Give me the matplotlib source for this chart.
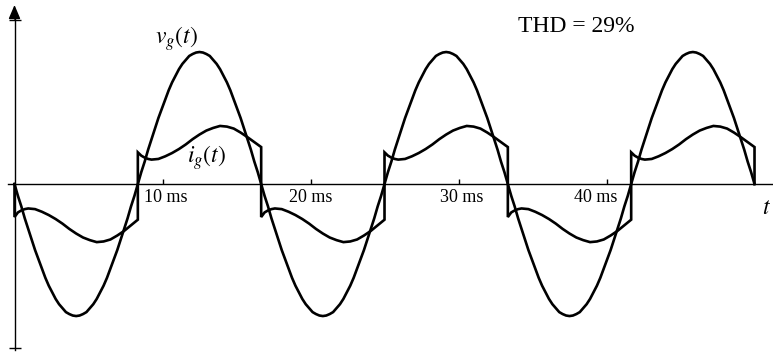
import numpy as np
import matplotlib.pyplot as plt

plt.rcParams['font.family'] = ['Liberation Serif', 'DejaVu Serif']
plt.rcParams['mathtext.fontset'] = 'stix'

# 60 Hz line, three cycles shown
period_ms = 16.667
n_cycles = 3

# v_g(t) over one line cycle, read every 5 degrees (peak = 1)
vg_deg = list(range(0, 360, 5))
vg_cycle = [0.00, -0.09, -0.17, -0.26, -0.34, -0.42, -0.50, -0.57, -0.64, -0.71,
            -0.77, -0.82, -0.87, -0.91, -0.94, -0.97, -0.985, -0.996, -1.00, -0.996,
            -0.985, -0.97, -0.94, -0.91, -0.87, -0.82, -0.77, -0.71, -0.64, -0.57,
            -0.50, -0.42, -0.34, -0.26, -0.17, -0.09,
            0.00, 0.09, 0.17, 0.26, 0.34, 0.42, 0.50, 0.57, 0.64, 0.71,
            0.77, 0.82, 0.87, 0.91, 0.94, 0.97, 0.985, 0.996, 1.00, 0.996,
            0.985, 0.97, 0.94, 0.91, 0.87, 0.82, 0.77, 0.71, 0.64, 0.57,
            0.50, 0.42, 0.34, 0.26, 0.17, 0.09]

# i_g(t) over one line cycle (same scale), with the step at each zero crossing
ig_deg = [0, 5, 10, 15, 20, 30, 40, 50, 60, 70, 80, 90, 100, 110, 120, 130, 140, 150, 160, 180,
          180, 185, 190, 195, 200, 210, 220, 230, 240, 250, 260, 270, 280, 290, 300, 310, 320, 330, 340, 360]
ig_cycle = [-0.25, -0.215, -0.20, -0.19, -0.185, -0.19, -0.21, -0.235, -0.265, -0.30,
            -0.34, -0.375, -0.405, -0.425, -0.44, -0.435, -0.42, -0.39, -0.355, -0.27,
            0.24, 0.215, 0.20, 0.19, 0.185, 0.19, 0.21, 0.235, 0.265, 0.30,
            0.34, 0.375, 0.405, 0.425, 0.44, 0.435, 0.42, 0.39, 0.355, 0.28]

tick_ms = [10, 20, 30, 40]
tick_labels = ['10 ms', '20 ms', '30 ms', '40 ms']
thd_text = 'THD = 29%'

# build the three cycles
t_vg = np.concatenate([np.array(vg_deg) + 360 * k for k in range(n_cycles)] + [[360 * n_cycles]])
t_vg = t_vg * period_ms / 360
vg = np.concatenate([vg_cycle] * n_cycles + [[0.0]])

t_ig = np.concatenate([[0]] + [np.array(ig_deg) + 360 * k for k in range(n_cycles)] + [[360 * n_cycles]])
t_ig = t_ig * period_ms / 360
ig = np.concatenate([[0.0]] + [ig_cycle] * n_cycles + [[0.0]])

fig = plt.figure(figsize=(7.73, 3.55), dpi=100)
ax = fig.add_axes([0, 0, 1, 1])
ax.set_xlim(-0.98, 51.25)
ax.set_ylim(-1.295, 1.394)

ax.plot(t_vg, vg, color='black', lw=1.9, solid_joinstyle='round')
ax.plot(t_ig, ig, color='black', lw=1.9, solid_joinstyle='miter')

# axes through the origin
for side in ['top', 'right']:
    ax.spines[side].set_visible(False)
ax.spines['bottom'].set_position(('data', 0))
ax.spines['left'].set_position(('data', 0))
ax.spines['bottom'].set_bounds(-0.45, 51.25)
ax.spines['left'].set_bounds(-1.26, 1.28)
ax.spines['bottom'].set_linewidth(1.0)
ax.spines['left'].set_linewidth(1.0)
ax.annotate('', xy=(0, 1.356), xytext=(0, 1.25),
            arrowprops=dict(arrowstyle='-|>,head_length=0.4,head_width=0.17',
                            mutation_scale=21, lw=1.0, color='black',
                            shrinkA=0, shrinkB=0))

ax.set_xticks(tick_ms)
ax.set_xticklabels([])
ax.tick_params(axis='x', direction='in', length=3.6, width=1.0)
ax.set_yticks([-1.24, 1.24])
ax.set_yticklabels([])
ax.tick_params(axis='y', direction='inout', length=8, width=1.0)

label_dx = [2, 0, 2, -8]
for t, lab, dx in zip(tick_ms, tick_labels, label_dx):
    ax.annotate(lab, xy=(t, 0), xytext=(dx, -3.5), textcoords='offset points',
                ha='center', va='top', fontsize=13)

fig.text(576 / 773, 1 - 32 / 355, thd_text, fontsize=17, ha='center', va='baseline')
fig.text(155 / 773, 1 - 44 / 355, r'$v_g(t)$', fontsize=17, ha='left', va='baseline')
fig.text(187 / 773, 1 - 163 / 355, r'$i_g(t)$', fontsize=17, ha='left', va='baseline')
fig.text(762 / 773, 1 - 214 / 355, r'$t$', fontsize=17, ha='left', va='baseline')

fig.savefig('out.png', dpi=100)
